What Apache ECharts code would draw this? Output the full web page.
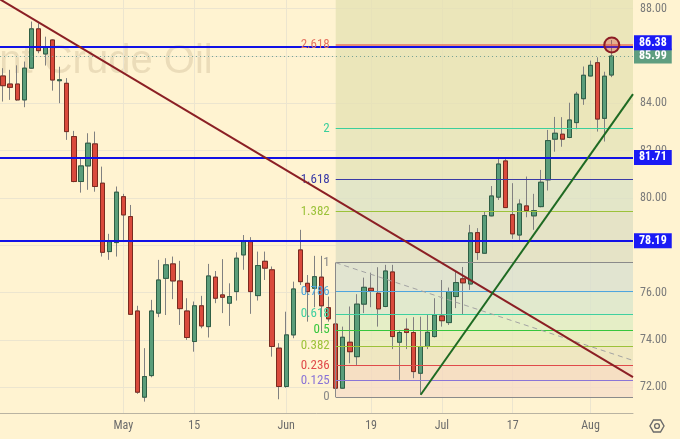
<!DOCTYPE html>
<html>
<head>
<meta charset="utf-8">
<script src="https://cdn.jsdelivr.net/npm/echarts@6/dist/echarts.min.js"></script>
<style>
  html, body { margin: 0; padding: 0; background: #fff3d1; }
  #chart { width: 680px; height: 439px; }
</style>
</head>
<body>
<div id="chart"></div>
<script>
// ── trading days: 04-05 is a blank column on the left edge, 08-07..08-09 is empty space on the right ──
const dates = [
  '04-05', '04-06', '04-07', '04-10', '04-11', '04-12', '04-13', '04-14', '04-17', '04-18', '04-19', '04-20', '04-21', '04-24', '04-25', '04-26', '04-27', '04-28',
  '05-01', '05-02', '05-03', '05-04', '05-05', '05-08', '05-09', '05-10', '05-11', '05-12', '05-15', '05-16', '05-17', '05-18', '05-19', '05-22', '05-23', '05-24', '05-25', '05-26', '05-29', '05-30', '05-31',
  '06-01', '06-02', '06-05', '06-06', '06-07', '06-08', '06-09', '06-12', '06-13', '06-14', '06-15', '06-16', '06-19', '06-20', '06-21', '06-22', '06-23', '06-26', '06-27', '06-28', '06-29', '06-30',
  '07-03', '07-04', '07-05', '07-06', '07-07', '07-10', '07-11', '07-12', '07-13', '07-14', '07-17', '07-18', '07-19', '07-20', '07-21', '07-24', '07-25', '07-26', '07-27', '07-28', '07-31',
  '08-01', '08-02', '08-03', '08-04', '08-07', '08-08', '08-09'
]
const tickDates = ['05-01', '05-15', '06-01', '06-19', '07-03', '07-17', '08-01']
const tickNames = ['May', '15', 'Jun', '19', 'Jul', '17', 'Aug']

// [open, close, low, high], one row per day from 04-06 to 08-04
const candles = [
  [85.15, 84.74, 84.07, 85.48], [84.81, 84.67, 84.14, 85.41], [84.81, 84.14, 84.10, 85.60], [84.14, 85.48, 83.83, 85.76],
  [85.48, 87.14, 85.45, 87.45], [87.14, 86.22, 86.11, 87.38], [86.08, 86.39, 85.59, 86.81], [86.67, 84.98, 84.53, 86.70],
  [84.95, 84.99, 84.00, 85.54], [84.84, 82.80, 82.45, 85.06], [82.59, 80.69, 80.66, 82.83], [80.69, 81.35, 80.22, 81.69],
  [81.35, 82.31, 80.34, 82.73], [82.28, 80.48, 80.26, 82.80], [80.62, 77.70, 77.52, 81.32], [77.73, 78.15, 77.38, 78.48],
  [78.11, 80.24, 77.52, 80.48], [80.05, 79.28, 78.15, 80.17], [79.21, 75.08, 75.05, 79.70], [75.22, 71.79, 71.72, 75.44],
  [71.58, 72.45, 71.39, 73.65], [72.49, 75.22, 72.42, 75.69], [75.13, 76.53, 74.96, 77.38], [76.60, 77.17, 75.05, 77.45],
  [77.21, 76.49, 75.72, 77.52], [76.49, 75.32, 74.63, 77.34], [75.22, 74.10, 74.00, 75.76], [73.93, 75.44, 73.50, 75.62],
  [75.44, 74.59, 74.49, 75.86], [74.56, 76.70, 74.10, 77.21], [76.65, 75.76, 75.55, 76.91], [75.90, 75.80, 75.13, 77.41],
  [75.55, 75.83, 74.59, 76.39], [76.04, 77.45, 75.66, 77.70], [77.59, 78.15, 76.96, 78.43], [78.15, 76.04, 75.10, 78.34],
  [75.87, 77.14, 75.66, 77.73], [77.32, 77.03, 76.53, 77.73], [76.96, 73.72, 73.29, 77.10], [73.65, 72.03, 71.49, 73.86],
  [72.03, 74.21, 71.98, 75.19], [74.21, 76.15, 74.07, 76.46], [77.80, 76.46, 76.32, 78.65], [76.39, 76.04, 74.77, 76.74],
  [76.18, 76.67, 75.38, 77.55], [76.65, 75.44, 74.35, 77.55], [75.36, 74.89, 74.77, 75.83], [74.67, 71.96, 71.89, 74.76],
  [71.96, 74.11, 71.94, 74.56], [73.90, 73.50, 73.01, 75.41], [73.29, 75.51, 72.94, 75.93], [75.51, 76.22, 75.13, 76.63],
  [76.18, 76.07, 75.38, 76.84], [75.97, 75.31, 74.56, 77.07], [75.41, 76.91, 75.38, 77.17], [76.87, 74.14, 73.61, 77.17],
  [73.90, 74.31, 72.31, 74.42], [74.45, 74.31, 73.61, 74.91], [74.31, 72.66, 72.38, 74.96], [72.59, 73.72, 71.68, 74.98],
  [73.72, 74.32, 73.61, 75.09], [74.14, 75.05, 74.10, 75.76], [75.01, 74.81, 74.56, 76.53], [74.73, 76.04, 74.63, 76.21],
  [75.83, 76.42, 75.34, 76.88], [76.58, 76.41, 75.05, 77.08], [76.36, 78.52, 76.11, 78.86], [78.53, 77.69, 77.38, 78.72],
  [77.66, 79.25, 77.63, 79.42], [79.24, 80.08, 79.22, 80.50], [80.03, 81.43, 79.91, 81.67], [81.56, 79.59, 79.57, 81.64],
  [79.29, 78.48, 78.27, 80.62], [78.43, 79.74, 78.15, 79.94], [79.66, 79.46, 79.18, 80.90], [79.24, 79.46, 78.65, 80.17],
  [79.63, 80.66, 79.60, 81.18], [80.76, 82.42, 80.31, 82.87], [82.48, 82.73, 81.95, 83.42], [82.69, 82.48, 82.16, 83.41],
  [82.55, 83.29, 82.52, 84.02], [83.18, 84.38, 82.90, 84.48], [84.19, 85.18, 83.93, 85.55], [85.15, 85.60, 85.13, 85.80],
  [85.71, 83.33, 82.80, 85.94], [83.36, 85.14, 82.38, 85.33], [85.19, 85.99, 85.10, 86.67]
]

// ── price axis ──
const yMin = 70.91
const yMax = 88.36
const yTicks = [72, 74, 76, 78, 80, 82, 84, 86, 88]

// ── fibonacci extension (anchored on the 06-12 low) ──
const fibStart = '06-12'
const fibLabels = ['0', '0.125', '0.236', '0.382', '0.5', '0.618', '0.786', '1', '1.382', '1.618', '2', '2.618']
const fibPrices = [71.58, 72.29, 72.92, 73.75, 74.42, 75.09, 76.04, 77.26, 79.43, 80.77, 82.94, 86.45]
const fibColors = ['#8a8a8a', '#8a74d6', '#e04a4a', '#9cc23a', '#36c63c', '#3fd0a0', '#4ea6de', '#8a8a8a', '#9cc23a', '#3a3aa6', '#3ccf9c', '#e6735f']
// band fills, bottom to top; the last one runs from 2.618 to the top edge
const fibFills = ['#f6dcc9', '#f4d8bf', '#eae3bd', '#e6ebbb', '#deecc3', '#d8e6cc', '#d8dfcf', '#dedec3', '#dbe2c5', '#e4e3b8', '#e6e2b4', '#e6e2b4']

// ── drawn levels and lines ──
const hLevels = [86.38, 81.71, 78.19]
const lastClose = 85.99
const resistLine = [['04-05', 88.49], ['08-09', 72.43]]
const supportLine = [['06-28', 71.68], ['08-09', 84.38]]
const dashLine = [['06-12', 77.26], ['08-09', 73.13]]
const marker = ['08-04', 86.46]

const FONT = "'Liberation Sans Narrow', 'Roboto Condensed', 'Liberation Sans', sans-serif"
const GRID = '#ece5cf'
const at = (d) => dates.indexOf(d)

const ohlc = dates.map((d, i) => candles[i - 1] || ['-', '-', '-', '-'])
const bodies = ohlc.map((r) => (r[0] === '-' ? r : [r[0], r[1], Math.min(r[0], r[1]), Math.max(r[0], r[1])]))

// fib bands + lines
const fibAreas = fibFills.map((color, k) => [
  { coord: [at(fibStart), fibPrices[k]], itemStyle: { color, opacity: 0.78 } },
  { coord: [dates.length - 1, k + 1 < fibPrices.length ? fibPrices[k + 1] : yMax] },
])
const fibLines = fibPrices.map((p, k) => [
  {
    coord: [at(fibStart), p],
    lineStyle: { color: fibColors[k], width: k === 11 ? 1.6 : 1, type: 'solid' },
    label: {
      show: true, position: 'start', distance: 6, formatter: fibLabels[k],
      color: fibColors[k], fontSize: 13, fontFamily: FONT,
    },
  },
  { coord: [dates.length - 1, p] },
])
fibLines.push([
  { coord: [at(fibStart), fibPrices[0]], lineStyle: { color: '#8a8a8a', width: 1, type: 'solid' }, label: { show: false } },
  { coord: [at(fibStart), fibPrices[7]] },
])

const boxLabel = (text, bg, dy) => ({
  show: true, position: 'end', distance: 1, formatter: text,
  color: '#ffffff', backgroundColor: bg, padding: [2, 5, 1, 5],
  fontSize: 12, fontWeight: 'bold', lineHeight: 12, fontFamily: FONT, offset: [0, dy],
})
const priceLines = hLevels.map((v, k) => ({
  yAxis: v,
  lineStyle: { color: '#1010e6', width: 2, type: 'solid' },
  label: boxLabel(v.toFixed(2), '#1a1af5', k === 0 ? -4 : 0),
}))
priceLines.unshift({
  yAxis: lastClose,
  lineStyle: { color: '#7aa592', width: 1, type: [1, 3] },
  label: boxLabel(lastClose.toFixed(2), '#5f9e80', 0),
})

const toXY = (line) => line.map(([d, p]) => [at(d), p])

const hex = []
for (let k = 0; k < 6; k++) {
  const a = (Math.PI / 3) * k
  hex.push([7 * Math.cos(a), 7 * Math.sin(a)])
}

const chart = echarts.init(document.getElementById('chart'), null, { renderer: 'canvas' })
chart.setOption({
  animation: false,
  backgroundColor: '#fff3d1',
  grid: { left: -4, right: 47, top: 0, bottom: 26, outerBoundsMode: 'none', containLabel: false },
  xAxis: [
    {
      type: 'category', data: dates, boundaryGap: false,
      axisLine: { show: true, lineStyle: { color: '#b9b3a2', width: 1 } },
      axisTick: { show: false },
      axisLabel: {
        interval: (i, v) => tickDates.includes(v),
        formatter: (v) => tickNames[tickDates.indexOf(v)] || '',
        color: '#6b6b6b', fontSize: 12, fontFamily: FONT, margin: 7,
      },
      splitLine: { show: true, interval: (i, v) => tickDates.includes(v), lineStyle: { color: GRID, width: 1 } },
    },
    { type: 'value', min: 0, max: dates.length - 1, show: false },
  ],
  yAxis: {
    type: 'value', position: 'right', min: yMin, max: yMax,
    axisLine: { show: true, lineStyle: { color: '#b9b3a2', width: 1 } },
    axisTick: { show: false, customValues: yTicks },
    axisLabel: {
      customValues: yTicks, formatter: (v) => v.toFixed(2),
      color: '#7a7a7a', fontSize: 12, fontFamily: FONT, margin: 7,
    },
    splitLine: { show: true, lineStyle: { color: GRID, width: 1 } },
  },
  graphic: [
    {
      type: 'text', x: -63, y: 62, z: 0, silent: true,
      style: { text: 'Brent Crude Oil', fontSize: 40, fontFamily: "'Liberation Sans', Arial, sans-serif", fill: 'rgba(110,85,40,0.14)', verticalAlign: 'middle', align: 'left' },
    },
    {
      type: 'group', x: 657, y: 426, silent: true,
      children: [
        { type: 'polygon', shape: { points: hex }, style: { fill: 'none', stroke: '#6a6a6a', lineWidth: 1.4 } },
        { type: 'circle', shape: { cx: 0, cy: 0, r: 2.4 }, style: { fill: 'none', stroke: '#6a6a6a', lineWidth: 1.4 } },
      ],
    },
  ],
  series: [
    {
      // fib bands, levels and labels
      type: 'line', xAxisIndex: 1, data: [], z: 1, silent: true,
      markArea: { silent: true, data: fibAreas },
      markLine: { silent: true, symbol: ['none', 'none'], data: fibLines },
    },
    {
      // wicks
      type: 'candlestick', data: ohlc, z: 3, barWidth: '68%', silent: true,
      itemStyle: { color: '#808080', color0: '#808080', borderColor: '#808080', borderColor0: '#808080', borderWidth: 1 },
    },
    {
      // bodies
      type: 'candlestick', data: bodies, z: 4, barWidth: '68%', silent: true,
      itemStyle: { color: '#5a9d7a', color0: '#da4a3c', borderColor: '#2f5f45', borderColor0: '#7a2b1f', borderWidth: 1 },
      markPoint: {
        silent: true,
        data: [{ coord: [at(marker[0]), marker[1]], symbol: 'circle', symbolSize: 15,
          itemStyle: { color: 'rgba(214,70,60,0.35)', borderColor: '#8c1c24', borderWidth: 2 }, label: { show: false } }],
      },
    },
    {
      type: 'line', xAxisIndex: 1, data: toXY(dashLine), z: 5, symbol: 'none', silent: true,
      lineStyle: { color: '#a3a3a3', width: 1, type: [5, 4] },
    },
    {
      type: 'line', xAxisIndex: 1, data: toXY(resistLine), z: 5, symbol: 'none', silent: true,
      lineStyle: { color: '#8b1f24', width: 2 },
    },
    {
      type: 'line', xAxisIndex: 1, data: toXY(supportLine), z: 5, symbol: 'none', silent: true,
      lineStyle: { color: '#1e6a22', width: 2 },
    },
    {
      // horizontal levels with price tags
      type: 'line', xAxisIndex: 1, data: [], z: 6, silent: true,
      markLine: { silent: true, symbol: ['none', 'none'], data: priceLines },
    },
  ],
})
</script>
</body>
</html>
